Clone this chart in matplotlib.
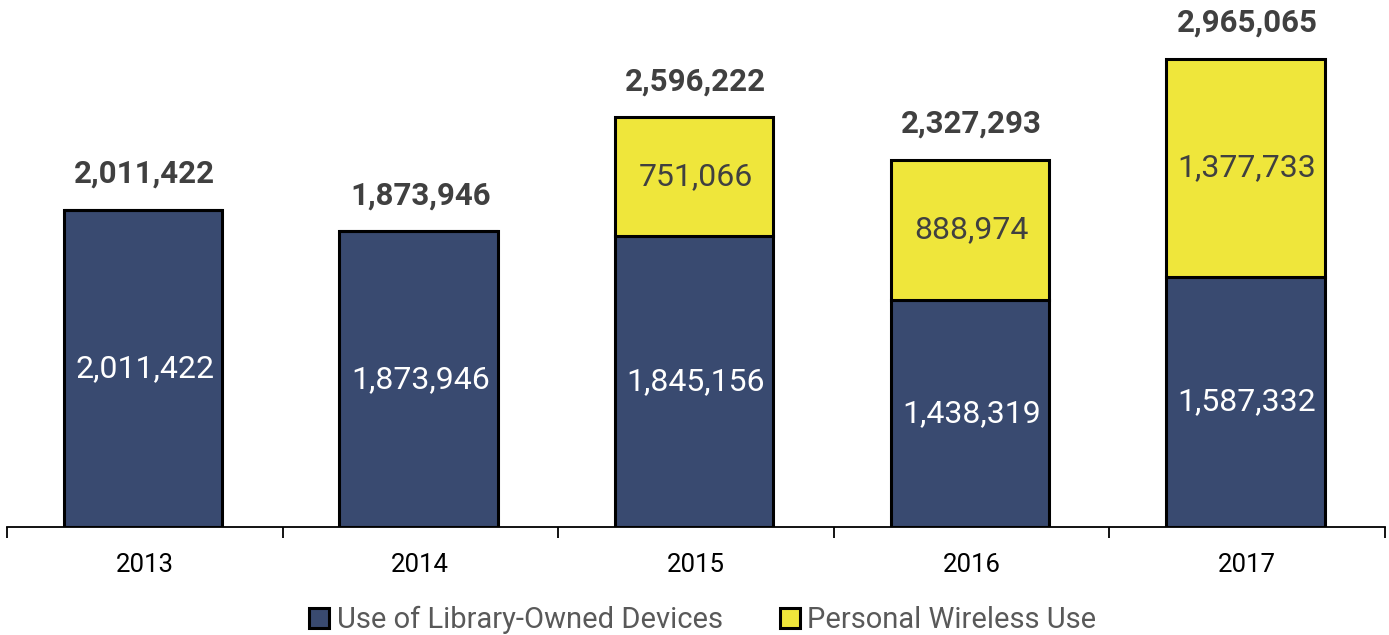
import matplotlib.pyplot as plt
import numpy as np

plt.rcParams['font.family'] = ['Roboto', 'DejaVu Sans']

# dados
years = ['2013', '2014', '2015', '2016', '2017']
library_devices = [2011422, 1873946, 1845156, 1438319, 1587332]
personal_wireless = [0, 0, 751066, 888974, 1377733]
totals = [2011422, 1873946, 2596222, 2327293, 2965065]

navy = '#394a70'
yellow = '#efe63b'

fig = plt.figure(figsize=(13.89, 6.35), dpi=100)
ax = fig.add_axes([0.005, 0.17, 0.992, 0.83])

x = np.arange(len(years))
w = 0.575

ax.bar(x - 0.006, library_devices, w, color=navy, edgecolor='black', linewidth=2.2,
       label='Use of Library-Owned Devices', zorder=2)
ax.bar(x - 0.006, personal_wireless, w, bottom=library_devices, color=yellow,
       edgecolor='black', linewidth=2.2, label='Personal Wireless Use', zorder=2)

# rotulos dentro das barras
for i in range(len(years)):
    ax.text(x[i], library_devices[i] / 2, f'{library_devices[i]:,}',
            ha='center', va='center', color='white', fontsize=23)
    if personal_wireless[i] > 0:
        ax.text(x[i], library_devices[i] + personal_wireless[i] / 2,
                f'{personal_wireless[i]:,}', ha='center', va='center',
                color='#404040', fontsize=23)
    ax.annotate(f'{totals[i]:,}', (x[i], totals[i]), xytext=(0, 26),
                textcoords='offset points', ha='center', va='center',
                fontsize=22.5, fontweight='bold', color='#404040')

ax.set_xlim(-0.5, 4.5)
ax.set_ylim(0, 3340000)
ax.set_xticks(x)
ax.set_xticklabels(years, fontsize=18.5)
ax.set_xticks(np.arange(-0.5, 5, 1), minor=True)
ax.tick_params(axis='x', which='major', length=0, pad=19)
ax.tick_params(axis='x', which='minor', length=8, width=1.3)
ax.set_yticks([])
for s in ['top', 'right', 'left']:
    ax.spines[s].set_visible(False)
ax.spines['bottom'].set_linewidth(1.3)

leg = ax.legend(loc='upper center', bbox_to_anchor=(0.505, -0.1), ncol=2,
                frameon=False, fontsize=21, handlelength=0.7, handleheight=0.7,
                handletextpad=0.25, columnspacing=1.95)
for t in leg.get_texts():
    t.set_color('#595959')

fig.savefig('out.png', dpi=100)
